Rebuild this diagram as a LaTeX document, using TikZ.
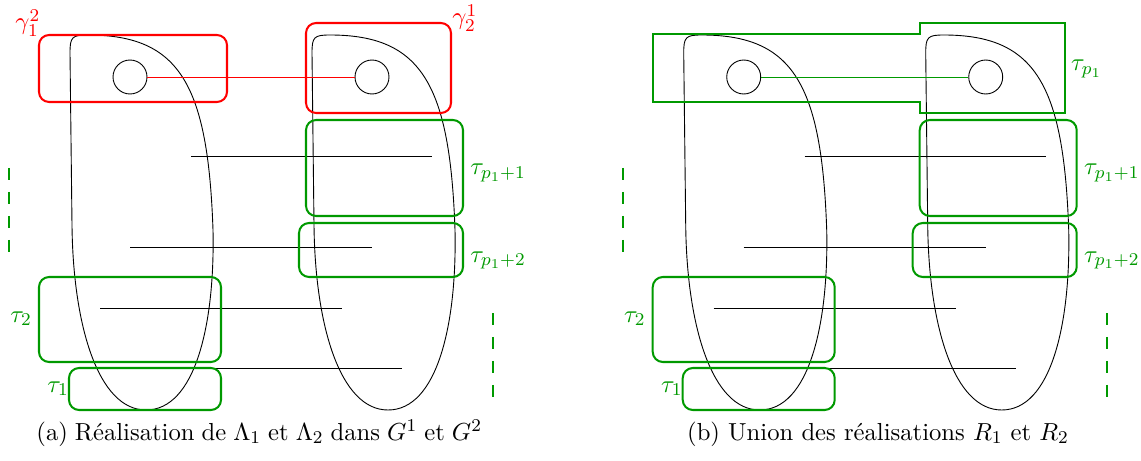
\documentclass[tikz,border=0pt,11pt]{standalone}
\usepackage{amsmath,amssymb}
\usepackage{xcolor}
\usepackage{tikz}
\usetikzlibrary{positioning}

\colorlet{taucol}{green!60!black}

\tikzset{
  blob/.pic={
    \draw[line width=0.4pt] (0,18) .. controls (0,2) and (2,0) .. (18,0)
      .. controls (110,0) and (138,50) .. (143,195)
      .. controls (145,290) and (125,375) .. (76,375)
      .. controls (28,375) and (3,290) .. (2,190) -- cycle;
  }
}

\begin{document}
\begin{tikzpicture}[
    x=0.4444pt, y=-0.4444pt,
    vertex/.style={circle, draw, inner sep=0pt, minimum size=15.1pt,
      line width=0.4pt},
    link/.style={line width=0.4pt},
    redbox/.style={draw=red, line width=0.9pt, rounded corners=4.5pt},
    taubox/.style={draw=taucol, line width=0.9pt, rounded corners=4.5pt},
    redlabel/.style={text=red, anchor=base west, inner sep=0pt},
    taulabel/.style={text=taucol, anchor=base west, inner sep=0pt},
    trail/.style={draw=taucol, line width=0.9pt,
      dash pattern=on 5.33pt off 5.33pt},
    caption/.style={anchor=base west, inner sep=0pt},
]
\useasboundingbox (0,0) rectangle (1141,461);

% ── (a) Realisations in G^1 and G^2 ──
\pic at (70,35) {blob};
\pic at (312,35) {blob};

\node[vertex] (a-u) at (130,77) {};
\node[vertex] (a-v) at (372,77) {};
\draw[red, line width=0.4pt] (a-u) -- (a-v);

\coordinate (a-s1) at (191,156);  \coordinate (a-t1) at (432,156);
\coordinate (a-s2) at (130,247);  \coordinate (a-t2) at (372,247);
\coordinate (a-s3) at (100,308);  \coordinate (a-t3) at (342,308);
\coordinate (a-s4) at (160,368);  \coordinate (a-t4) at (402,368);
\draw[link] (a-s1) -- (a-t1);
\draw[link] (a-s2) -- (a-t2);
\draw[link] (a-s3) -- (a-t3);
\draw[link] (a-s4) -- (a-t4);

\draw[redbox] (39,35) rectangle (227,102);
\draw[redbox] (306,23) rectangle (451,113);
\draw[taubox] (306,120) rectangle (463,216);
\draw[taubox] (299,223) rectangle (463,277);
\draw[taubox] (39,277) rectangle (221,362);
\draw[taubox] (69,368) rectangle (221,410);

\draw[trail] (9,168) -- (9,253);
\draw[trail] (493,313) -- (493,398);

\node[redlabel] (a-g1) at (15,30) {$\gamma_1^2$};
\node[redlabel] (a-g2) at (452,25) {$\gamma_2^1$};
\node[taulabel] (a-l1) at (470,175) {$\tau_{p_1+1}$};
\node[taulabel] (a-l2) at (470,262) {$\tau_{p_1+2}$};
\node[taulabel] (a-l3) at (10,322) {$\tau_2$};
\node[taulabel] (a-l4) at (47,392) {$\tau_1$};

\node[caption] (a-cap) at (36,440) {\hbox to 198pt{(a) R\'ealisation
  de $\Lambda_1$ et $\Lambda_2$ dans $G^1$ et $G^2$}};

% ── (b) Union of the realisations ──
\begin{scope}[xshift=272.73pt]
\pic at (70,35) {blob};
\pic at (312,35) {blob};

\node[vertex] (b-u) at (130,77) {};
\node[vertex] (b-v) at (372,77) {};
\draw[taucol, line width=0.4pt] (b-u) -- (b-v);

\coordinate (b-s1) at (191,156);  \coordinate (b-t1) at (432,156);
\coordinate (b-s2) at (130,247);  \coordinate (b-t2) at (372,247);
\coordinate (b-s3) at (100,308);  \coordinate (b-t3) at (342,308);
\coordinate (b-s4) at (160,368);  \coordinate (b-t4) at (402,368);
\draw[link] (b-s1) -- (b-t1);
\draw[link] (b-s2) -- (b-t2);
\draw[link] (b-s3) -- (b-t3);
\draw[link] (b-s4) -- (b-t4);

\draw[taubox, rounded corners=0pt] (39,34) -- (306,34) -- (306,23)
  -- (451,23) -- (451,113) -- (306,113) -- (306,102) -- (39,102) -- cycle;
\draw[taubox] (306,120) rectangle (463,216);
\draw[taubox] (299,223) rectangle (463,277);
\draw[taubox] (39,277) rectangle (221,362);
\draw[taubox] (69,368) rectangle (221,410);

\draw[trail] (9,168) -- (9,253);
\draw[trail] (493,313) -- (493,398);

\node[taulabel] (b-l0) at (457,71) {$\tau_{p_1}$};
\node[taulabel] (b-l1) at (470,175) {$\tau_{p_1+1}$};
\node[taulabel] (b-l2) at (470,262) {$\tau_{p_1+2}$};
\node[taulabel] (b-l3) at (10,322) {$\tau_2$};
\node[taulabel] (b-l4) at (47,392) {$\tau_1$};

\node[caption] (b-cap) at (73,440)
  {(b) Union des r\'ealisations $R_1$ et $R_2$};
\end{scope}

\end{tikzpicture}
\end{document}
